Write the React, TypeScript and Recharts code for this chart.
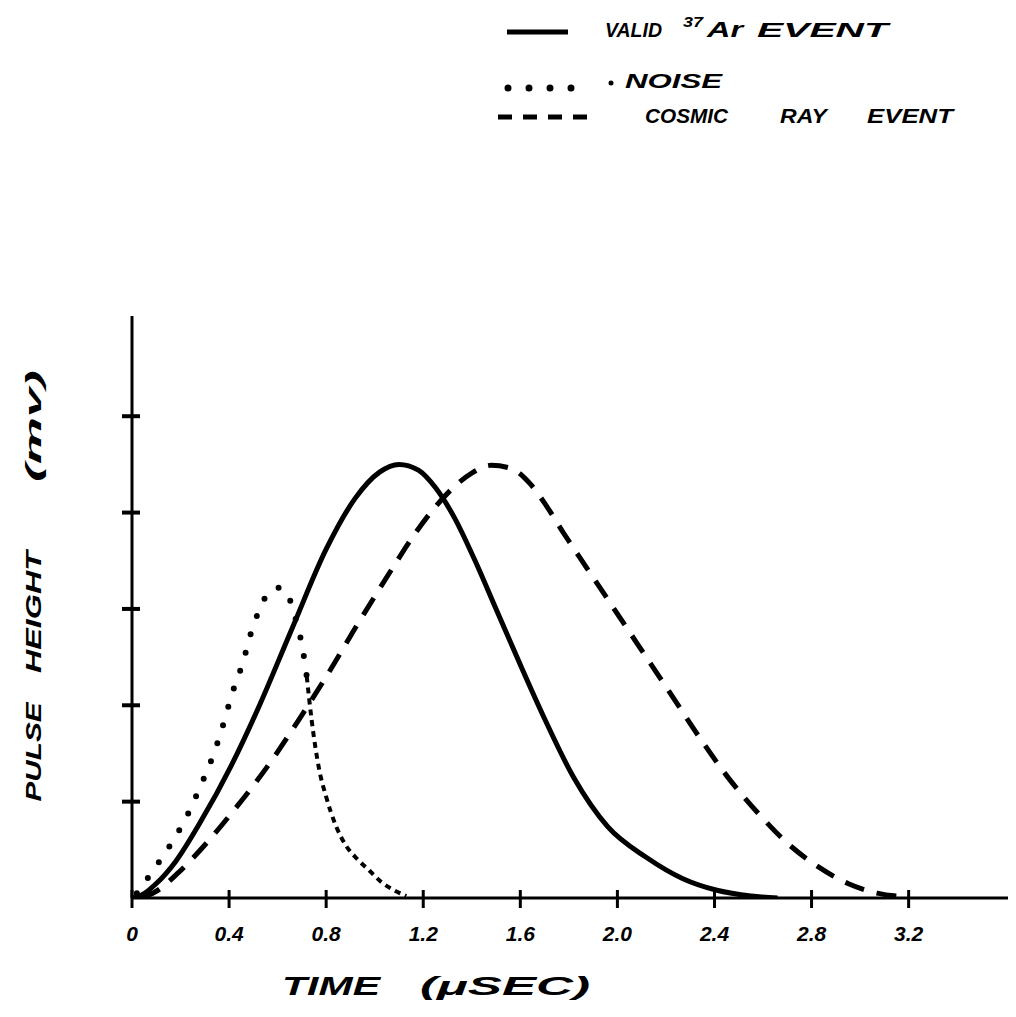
import React from 'react';
import { LineChart, Line, XAxis, YAxis, Legend, Customized } from 'recharts';

const xTicks = [0, 0.4, 0.8, 1.2, 1.6, 2.0, 2.4, 2.8, 3.2];
const xTickLabels = ['0', '0.4', '0.8', '1.2', '1.6', '2.0', '2.4', '2.8', '3.2'];
const yTicks = [1, 2, 3, 4, 5];

// Valid 37Ar event (solid)
const validT = [0, 0.04, 0.1, 0.18, 0.28, 0.41, 0.52, 0.66, 0.8, 0.92, 1.02, 1.1, 1.18, 1.25, 1.33, 1.41, 1.5, 1.6, 1.7, 1.82, 1.96, 2.12, 2.27, 2.41, 2.55, 2.66];
const validV = [0, 0.03, 0.15, 0.38, 0.78, 1.38, 1.97, 2.8, 3.62, 4.15, 4.42, 4.5, 4.44, 4.26, 3.94, 3.52, 3.0, 2.42, 1.86, 1.25, 0.74, 0.42, 0.2, 0.08, 0.02, 0];

// Cosmic ray event (dashed)
const cosmicT = [0.04, 0.1, 0.19, 0.3, 0.41, 0.51, 0.59, 0.69, 0.83, 0.91, 1.01, 1.08, 1.16, 1.24, 1.32, 1.4, 1.48, 1.56, 1.64, 1.71, 1.78, 1.87, 1.96, 2.05, 2.14, 2.24, 2.34, 2.45, 2.58, 2.7, 2.83, 2.95, 3.07, 3.2];
const cosmicV = [0, 0.07, 0.26, 0.55, 0.88, 1.2, 1.48, 1.86, 2.42, 2.76, 3.17, 3.45, 3.76, 4.03, 4.25, 4.41, 4.49, 4.46, 4.3, 4.06, 3.78, 3.44, 3.1, 2.76, 2.42, 2.04, 1.66, 1.27, 0.88, 0.57, 0.32, 0.15, 0.05, 0.01];

// Noise (dotted rise, short-dashed fall)
const noiseRiseT = [0.02, 0.11, 0.18, 0.23, 0.28, 0.33, 0.37, 0.41, 0.46, 0.49, 0.53, 0.57, 0.61, 0.64, 0.66, 0.68, 0.7, 0.72];
const noiseRiseV = [0.05, 0.37, 0.64, 0.87, 1.15, 1.45, 1.75, 2.1, 2.47, 2.75, 3.02, 3.19, 3.22, 3.16, 3.02, 2.84, 2.63, 2.3];
const noiseFallT = [0.72, 0.74, 0.77, 0.8, 0.84, 0.88, 0.93, 0.98, 1.03, 1.08, 1.13];
const noiseFallV = [2.3, 1.85, 1.35, 1.05, 0.75, 0.55, 0.4, 0.28, 0.16, 0.08, 0.02];

const rows = (t: number[], v: number[]) => t.map((x, i) => ({ t: x, v: v[i] }));
const validData = rows(validT, validV);
const cosmicData = rows(cosmicT, cosmicV);
const noiseRiseData = rows(noiseRiseT, noiseRiseV);
const noiseFallData = rows(noiseFallT, noiseFallV);

const FONT = '"Liberation Sans", Arial, sans-serif';
const txt = { fontFamily: FONT, fontWeight: 700, fontStyle: 'italic', fill: '#000' } as const;

const XTick = (props: any) => {
  const { x, y, payload } = props;
  const i = xTicks.findIndex((v) => Math.abs(v - payload.value) < 1e-6);
  return (
    <g>
      <line x1={x} x2={x} y1={y - 8} y2={y + 10} stroke="#000" strokeWidth={3} />
      {i >= 0 && (
        <text x={x} y={y + 43} textAnchor="middle" fontSize={21} {...txt}>
          {xTickLabels[i]}
        </text>
      )}
    </g>
  );
};

const YTick = (props: any) => {
  const { x, y } = props;
  return <line x1={x - 10} x2={x + 8} y1={y} y2={y} stroke="#000" strokeWidth={4} />;
};

const LegendContent = () => (
  <svg width={1008} height={140} style={{ display: 'block' }}>
    <line x1={499} x2={560} y1={24} y2={24} stroke="#000" strokeWidth={5} />
    <text x={597} y={29} fontSize={21} textLength={57} lengthAdjust="spacingAndGlyphs" {...txt}>VALID</text>
    <text x={675} y={19} fontSize={14} textLength={20} lengthAdjust="spacingAndGlyphs" {...txt}>37</text>
    <text x={699} y={29} fontSize={22} textLength={36} lengthAdjust="spacingAndGlyphs" {...txt}>Ar</text>
    <text x={749} y={29} fontSize={21} textLength={131} lengthAdjust="spacingAndGlyphs" {...txt}>EVENT</text>

    <line x1={500} x2={566} y1={80} y2={80} stroke="#000" strokeWidth={7} strokeDasharray="0 21" strokeLinecap="round" />
    <circle cx={603} cy={75} r={2.5} fill="#000" />
    <text x={617} y={80} fontSize={21} textLength={97} lengthAdjust="spacingAndGlyphs" {...txt}>NOISE</text>

    <line x1={490} x2={584} y1={109} y2={109} stroke="#000" strokeWidth={5} strokeDasharray="14 11" />
    <text x={637} y={115} fontSize={20} textLength={83} lengthAdjust="spacingAndGlyphs" {...txt}>COSMIC</text>
    <text x={772} y={115} fontSize={20} textLength={47} lengthAdjust="spacingAndGlyphs" {...txt}>RAY</text>
    <text x={859} y={115} fontSize={20} textLength={86} lengthAdjust="spacingAndGlyphs" {...txt}>EVENT</text>
  </svg>
);

const AxisTitles = () => (
  <g>
    <text x={274} y={987} fontSize={25} textLength={98} lengthAdjust="spacingAndGlyphs" {...txt}>TIME</text>
    <text x={412} y={987} fontSize={25} textLength={170} lengthAdjust="spacingAndGlyphs" {...txt}>(μSEC)</text>
    <text transform="translate(33,744) rotate(-90)" textAnchor="middle" fontSize={22} textLength={99} lengthAdjust="spacingAndGlyphs" {...txt}>PULSE</text>
    <text transform="translate(33,604) rotate(-90)" textAnchor="middle" fontSize={22} textLength={122} lengthAdjust="spacingAndGlyphs" {...txt}>HEIGHT</text>
    <text transform="translate(33,418) rotate(-90)" textAnchor="middle" fontSize={22} textLength={112} lengthAdjust="spacingAndGlyphs" {...txt}>(mv)</text>
  </g>
);

export default function App() {
  return (
    <div style={{ width: 1008, height: 1000, background: '#fff' }}>
      <LineChart width={1008} height={1000} margin={{ top: 308, right: 3, bottom: 0, left: 0 }}>
        <XAxis
          dataKey="t"
          type="number"
          domain={[0, 3.63]}
          ticks={xTicks}
          allowDataOverflow
          height={110}
          tickSize={0}
          tickMargin={0}
          tickLine={false}
          axisLine={{ stroke: '#000', strokeWidth: 3 }}
          tick={<XTick />}
          interval={0}
        />
        <YAxis
          type="number"
          domain={[0, 6.04]}
          ticks={yTicks}
          allowDataOverflow
          width={124}
          tickSize={0}
          tickMargin={0}
          tickLine={false}
          axisLine={{ stroke: '#000', strokeWidth: 3 }}
          tick={<YTick />}
          interval={0}
        />
        <Legend
          layout="vertical"
          align="center"
          verticalAlign="middle"
          content={<LegendContent />}
          wrapperStyle={{ position: 'absolute', left: 0, top: 0, width: 1008, height: 140 }}
        />
        <Line data={noiseRiseData} dataKey="v" type="monotone" stroke="#000" strokeWidth={6} strokeDasharray="0 19" strokeLinecap="round" dot={false} isAnimationActive={false} />
        <Line data={noiseFallData} dataKey="v" type="monotone" stroke="#000" strokeWidth={4} strokeDasharray="6 5" dot={false} isAnimationActive={false} />
        <Line data={cosmicData} dataKey="v" type="monotone" stroke="#000" strokeWidth={5} strokeDasharray="20 13" dot={false} isAnimationActive={false} />
        <Line data={validData} dataKey="v" type="monotone" stroke="#000" strokeWidth={5} dot={false} isAnimationActive={false} />
        <Customized component={AxisTitles} />
      </LineChart>
    </div>
  );
}
